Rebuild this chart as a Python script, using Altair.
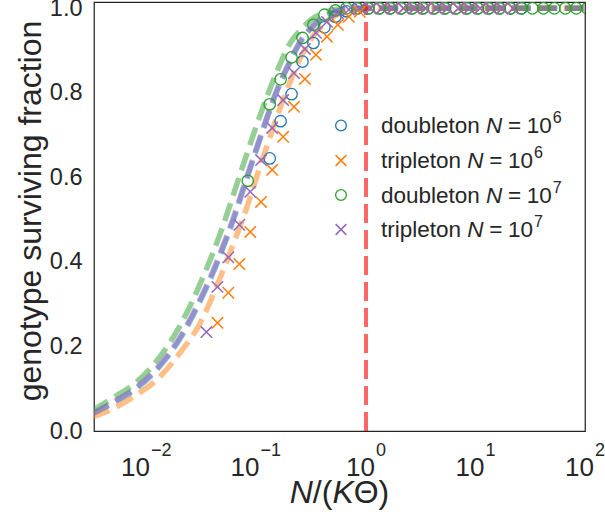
import altair as alt
import pandas as pd

FONT = "Liberation Sans"
INK = "#262626"

# ---------------- data ----------------
# theory curves (thick dashed)
curve_x = [0.00316, 0.00501, 0.00794, 0.0126, 0.02, 0.0316, 0.0398, 0.0501, 0.0631, 0.0794,
           0.1, 0.126, 0.158, 0.2, 0.251, 0.316, 0.398, 0.501, 0.631, 0.794,
           1.0, 3.16, 10.0, 31.6, 100.0]
curve_d6 = [0.040, 0.068, 0.100, 0.148, 0.218, 0.315, 0.372, 0.437, 0.508, 0.588,
            0.666, 0.743, 0.812, 0.870, 0.920, 0.953, 0.976, 0.990, 0.997, 0.999,
            1.0, 1.0, 1.0, 1.0, 1.0]
curve_t6 = [0.033, 0.054, 0.085, 0.124, 0.185, 0.262, 0.320, 0.383, 0.450, 0.520,
            0.600, 0.678, 0.752, 0.822, 0.882, 0.928, 0.960, 0.980, 0.992, 0.998,
            1.0, 1.0, 1.0, 1.0, 1.0]
curve_d7 = [0.048, 0.080, 0.115, 0.170, 0.249, 0.357, 0.420, 0.490, 0.568, 0.646,
            0.723, 0.794, 0.858, 0.915, 0.948, 0.973, 0.988, 0.996, 0.999, 1.0,
            1.0, 1.0, 1.0, 1.0, 1.0]
curve_t7 = [0.041, 0.070, 0.103, 0.152, 0.222, 0.320, 0.377, 0.442, 0.513, 0.592,
            0.670, 0.747, 0.815, 0.873, 0.922, 0.955, 0.977, 0.990, 0.997, 0.999,
            1.0, 1.0, 1.0, 1.0, 1.0]

# simulation points
d6_x = [0.132, 0.166, 0.209, 0.263, 0.331, 0.417, 0.525, 0.661, 0.832, 1.05, 1.32, 1.66,
        2.09, 2.63, 3.31, 4.17, 5.25, 6.61, 8.32, 10.5, 13.2, 16.6, 20.9, 26.3]
d6_y = [0.645, 0.733, 0.797, 0.874, 0.918, 0.955, 0.980, 0.993, 1.0, 1.0, 1.0, 1.0,
        1.0, 1.0, 1.0, 1.0, 1.0, 1.0, 1.0, 1.0, 1.0, 1.0, 1.0, 1.0]
d7_x = [0.0832, 0.132, 0.166, 0.209, 0.263, 0.331, 0.417, 0.525, 0.661, 0.832, 1.05,
        1.32, 1.66, 2.09, 2.63, 3.31, 4.17, 5.25, 6.61, 8.32, 10.5, 13.2, 16.6, 20.9,
        26.3, 33.1, 41.7, 52.5, 66.1, 83.2, 105.0]
d7_y = [0.592, 0.773, 0.832, 0.884, 0.930, 0.961, 0.985, 0.995, 1.0, 1.0, 1.0,
        1.0, 1.0, 1.0, 1.0, 1.0, 1.0, 1.0, 1.0, 1.0, 1.0, 1.0, 1.0, 1.0,
        1.0, 1.0, 1.0, 1.0, 1.0, 1.0, 1.0]
t6_x = [0.0440, 0.0553, 0.0697, 0.0877, 0.110, 0.139, 0.175, 0.220, 0.277, 0.349, 0.440,
        0.553, 0.697, 0.877, 1.10, 1.39, 1.75, 2.20, 2.77, 3.49, 4.40, 5.53, 6.97, 8.77,
        11.0, 13.9, 17.5, 22.0]
t6_y = [0.256, 0.327, 0.395, 0.471, 0.542, 0.618, 0.696, 0.767, 0.833, 0.890, 0.933,
        0.961, 0.980, 0.992, 1.0, 1.0, 1.0, 1.0, 1.0, 1.0, 1.0, 1.0, 1.0, 1.0,
        1.0, 1.0, 1.0, 1.0]
t7_x = [0.0349, 0.0440, 0.0553, 0.0697, 0.0877, 0.110, 0.139, 0.175, 0.220, 0.277, 0.349,
        0.440, 0.553, 0.697, 0.877, 1.10, 1.39, 1.75, 2.20, 2.77, 3.49, 4.40, 5.53, 6.97,
        8.77, 11.0, 13.9, 17.5, 22.0]
t7_y = [0.234, 0.341, 0.411, 0.488, 0.566, 0.641, 0.717, 0.783, 0.847, 0.904, 0.942,
        0.968, 0.989, 0.997, 1.0, 1.0, 1.0, 1.0, 1.0, 1.0, 1.0, 1.0, 1.0, 1.0,
        1.0, 1.0, 1.0, 1.0, 1.0]

vline_x = [1.0]

series_names = ["doubleton 1e6", "tripleton 1e6", "doubleton 1e7", "tripleton 1e7"]
series_colors = ["#1f77b4", "#ff7f0e", "#2ca02c", "#9467bd"]
legend_words = ["doubleton", "tripleton", "doubleton", "tripleton"]
legend_exps = ["6", "6", "7", "7"]

tick_vals = [0.01, 0.1, 1.0, 10.0, 100.0]
tick_exps = ["\u22122", "\u22121", "0", "1", "2"]

# ---------------- tables ----------------
curves = pd.concat([
    pd.DataFrame({"x": curve_x, "y": ys, "s": nm})
    for nm, ys in zip(series_names, [curve_d6, curve_t6, curve_d7, curve_t7])
])
points = pd.concat([
    pd.DataFrame({"x": xs, "y": ys, "s": nm, "kind": kd})
    for nm, xs, ys, kd in zip(series_names, [d6_x, t6_x, d7_x, t7_x], [d6_y, t6_y, d7_y, t7_y],
                              ["circle", "cross", "circle", "cross"])
])
ticks = pd.DataFrame({"x": tick_vals, "exp": tick_exps,
                      "neg": [e.startswith("\u2212") for e in tick_exps], "base": "10"})

W, H = 491, 429
LEFT, TOP = 94, 2

xscale = alt.Scale(type="log", domain=[0.00328, 100], nice=False)
yscale = alt.Scale(domain=[0, 1.015], nice=False)
cscale = alt.Scale(domain=series_names, range=series_colors)

yaxis = alt.Axis(values=[0, 0.2, 0.4, 0.6, 0.8, 1.0], format=".1f", ticks=False, domain=False,
                 grid=False, labelFont=FONT, labelFontSize=23.5, labelColor=INK, labelPadding=12,
                 labelFlush=False, labelOverlap=False,
                 title="genotype surviving fraction", titleFont=FONT, titleFontSize=32,
                 titleColor=INK, titleFontWeight="normal", titleAngle=270, titleX=-54,
                 titleY=H / 2 - 6, titleBaseline="alphabetic", titleAlign="center")
X = alt.X("x:Q", scale=xscale, axis=None)
Y = alt.Y("y:Q", scale=yscale, axis=yaxis)
C = alt.Color("s:N", scale=cscale, legend=None)

lines = alt.Chart(curves).mark_line(strokeWidth=5.5, strokeDash=[18.5, 8], opacity=0.5,
                                    interpolate="monotone", clip=True).encode(
    x=X, y=Y, color=C, detail="s:N")

vline = alt.Chart(pd.DataFrame({"x": vline_x})).mark_rule(
    color="#ff0000", opacity=0.6, strokeWidth=4, strokeDash=[19, 7]).encode(
    x=X, y=alt.value(H), y2=alt.value(0))

CROSS = "M-1,-1L1,1M-1,1L1,-1"
circles = alt.Chart(points).transform_filter(alt.datum.kind == "circle").mark_point(
    shape="circle", filled=False, size=130, strokeWidth=1.3, opacity=1, clip=True).encode(
    x=X, y=Y, color=C)
crosses = alt.Chart(points).transform_filter(alt.datum.kind == "cross").mark_point(
    shape=CROSS, filled=False, size=130, strokeWidth=1.5, opacity=1, clip=True).encode(
    x=X, y=Y, color=C)

layers = [lines, vline, circles, crosses]

# x tick labels 10^k
BASE_FS, SUP_FS = 26, 18
for neg, dx in [(True, 3.0), (False, 9.0)]:
    sub = ticks[ticks["neg"] == neg]
    layers.append(alt.Chart(sub).mark_text(font=FONT, fontSize=BASE_FS, color=INK, align="right",
                                           baseline="alphabetic", dx=dx).encode(
        x=X, y=alt.value(476 - TOP), text="base:N"))
    layers.append(alt.Chart(sub).mark_text(font=FONT, fontSize=SUP_FS, color=INK, align="left",
                                           baseline="alphabetic", dx=dx + 1).encode(
        x=X, y=alt.value(456 - TOP), text="exp:N"))

one = pd.DataFrame({"a": [0]})


def txt(s, x_abs, y_abs, size, style="normal", align="left"):
    return alt.Chart(one).mark_text(text=s, font=FONT, fontSize=size, fontStyle=style, color=INK,
                                    align=align, baseline="alphabetic").encode(
        x=alt.value(x_abs - LEFT), y=alt.value(y_abs - TOP))


AW = {"N": 0.722, "/": 0.278, "(": 0.333, "K": 0.667, "\u0398": 0.778, ")": 0.333,
      "=": 0.584, "1": 0.556, "0": 0.556, "d": .556, "o": .556, "u": .556, "b": .556,
      "l": .222, "e": .556, "t": .278, "n": .556, "r": .333, "i": .222, "p": .556, " ": .278}


def width(s, fs):
    return sum(AW[c] for c in s) * fs


# x title  N/(KΘ)
TFS = 32
segs = [("N", "italic"), ("/(", "normal"), ("K", "italic"), ("\u0398)", "normal")]
total = sum(width(s, TFS) for s, _ in segs)
xpos = (LEFT + LEFT + W) / 2 - total / 2
for s, st in segs:
    layers.append(txt(s, xpos, 503, TFS, st))
    xpos += width(s, TFS)

# legend
WFS, SFS = 22.5, 16
row_y = [125.5, 160.5, 195.0, 229.5]
for i in range(4):
    yc = row_y[i]
    shape = "circle" if i % 2 == 0 else CROSS
    sw = 1.3 if i % 2 == 0 else 1.5
    layers.append(alt.Chart(one).mark_point(shape=shape, filled=False, size=115, strokeWidth=sw,
                                            color=series_colors[i], opacity=1).encode(
        x=alt.value(341 - LEFT), y=alt.value(yc - TOP)))
    base = yc + 7.5
    x0 = 381
    layers.append(txt(legend_words[i], x0, base, WFS))
    xn = x0 + width(legend_words[i] + " ", WFS)
    layers.append(txt("N", xn, base, WFS, "italic"))
    xe = xn + width("N", WFS) + 0.25 * WFS
    layers.append(txt("=", xe, base, WFS))
    x10 = xe + width("=", WFS) + 0.25 * WFS
    layers.append(txt("10", x10, base, WFS))
    xs = x10 + width("10", WFS) + 1
    layers.append(txt(legend_exps[i], xs, base - 10, SFS))

chart = alt.layer(*layers).properties(
    width=W, height=H,
    autosize=alt.AutoSizeParams(type="none"),
    padding={"left": LEFT, "top": TOP, "right": 605 - LEFT - W, "bottom": 512 - TOP - H},
    background="white",
).configure_view(stroke=INK, strokeWidth=1.25)

chart.save("out.html", embed_options={"renderer": "svg", "actions": False})
